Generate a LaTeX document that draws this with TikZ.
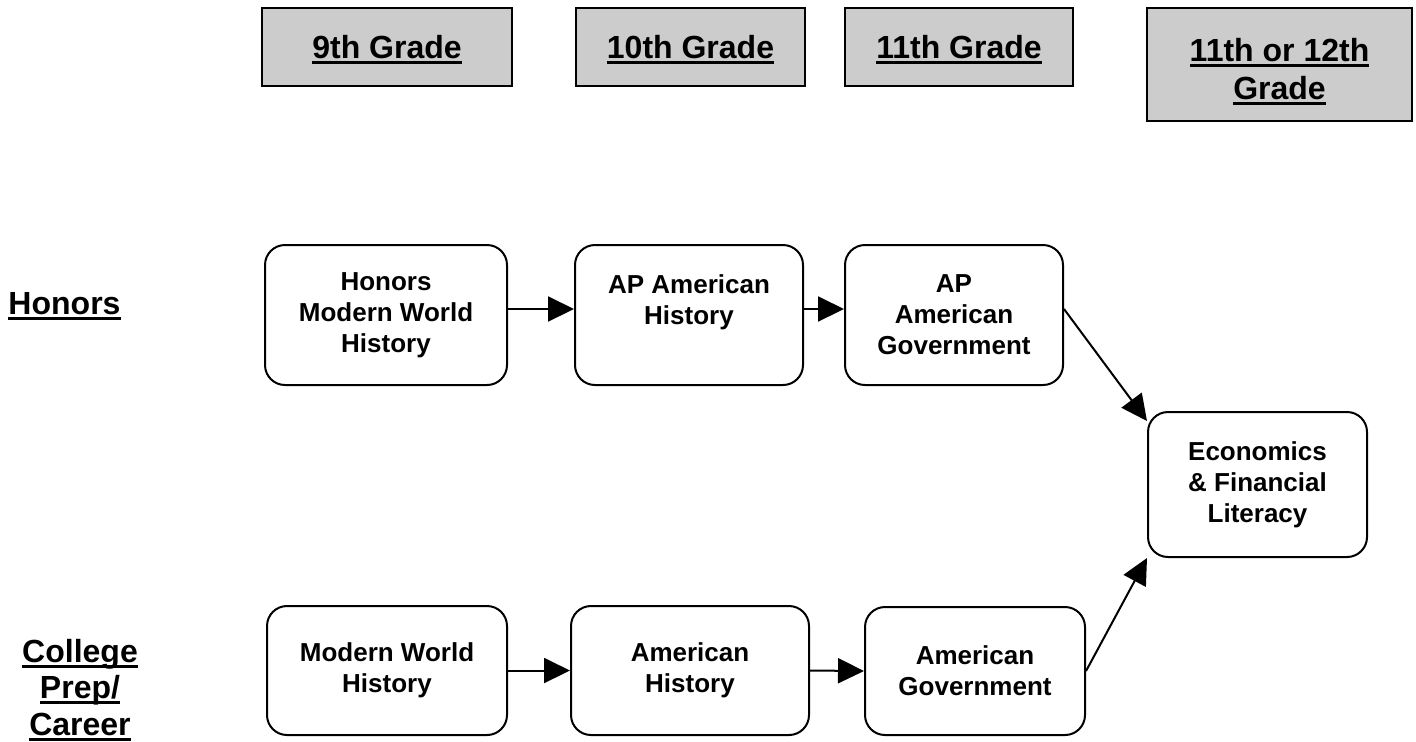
\documentclass[tikz,border=0pt]{standalone}
\usepackage{fontspec}
\setmainfont{Liberation Sans}
\usetikzlibrary{arrows.meta}
\definecolor{boxgray}{HTML}{CCCCCC}
\newlength\ulw
\newcommand\myul[1]{\settowidth\ulw{#1}\rlap{\smash{\rule[-2.75pt]{\ulw}{1.5pt}}}#1}
\begin{document}
\begin{tikzpicture}[x=0.5pt,y=-0.5pt,
  grade/.style={draw=black, line width=1.1pt, fill=boxgray, inner sep=0pt, align=center,
    font=\fontsize{16}{19}\selectfont\bfseries},
  course/.style={draw=black, line width=1pt, rounded corners=10pt, inner sep=0pt, align=center,
    font=\fontsize{13}{15.5}\selectfont\bfseries},
  track/.style={inner sep=0pt, align=center, font=\fontsize{16}{18.25}\selectfont\bfseries},
  arr/.style={line width=1pt, -{Triangle[length=13pt,width=12.5pt]}}]
\useasboundingbox (0,0) rectangle (1416,741);

% grade headers
\node[grade, minimum width=125pt, minimum height=39pt] (g9) at (387,47) {\myul{9th Grade}};
\node[grade, minimum width=114.5pt, minimum height=39pt] (g10) at (690.5,47) {\myul{10th Grade}};
\node[grade, minimum width=114pt, minimum height=39pt] (g11) at (959,47) {\myul{11th Grade}};
\node[grade, minimum width=132.5pt, minimum height=56.5pt] (g12) at (1279.5,64.5) {\rule{0pt}{16.5pt}\myul{11th or 12th}\\\myul{Grade}};

% track labels
\node[track] (lhon) at (64.5,303.5) {\myul{Honors}};
\node[track, anchor=north] (lcp) at (80,638.5) {\myul{College}\\\myul{Prep/}\\\myul{Career}};

% honors row
\node[course, minimum width=121pt, minimum height=70pt] (hmwh) at (386,315) {Honors\\Modern World\\History};
\node[course, minimum width=114pt, minimum height=70pt] (apah) at (689,315) {AP American\\History\\~};
\node[course, minimum width=109pt, minimum height=70pt] (apag) at (954,315) {AP\\American\\Government};

% economics
\node[course, minimum width=109.5pt, minimum height=72.5pt] (econ) at (1257.5,484.5) {Economics\\\& Financial\\Literacy};

% college prep row
\node[course, minimum width=120pt, minimum height=64.5pt] (mwh) at (387,670.5) {Modern World\\History};
\node[course, minimum width=119pt, minimum height=64.5pt] (amh) at (690,670.5) {American\\History};
\node[course, minimum width=110pt, minimum height=64pt] (amg) at (975,671) {American\\Government};

% connectors
\draw[arr] ([yshift=3pt]hmwh.east) -- ([yshift=3pt]apah.west);
\draw[arr] ([yshift=3pt]apah.east) -- ([yshift=3pt]apag.west);
\draw[arr] ([yshift=3pt]apag.east) -- ([yshift=-5pt]econ.north west);
\draw[arr] (mwh.east) -- (amh.west);
\draw[arr] (amh.east) -- (amg.west);
\draw[arr] (amg.east) -- (econ.south west);
\end{tikzpicture}
\end{document}
